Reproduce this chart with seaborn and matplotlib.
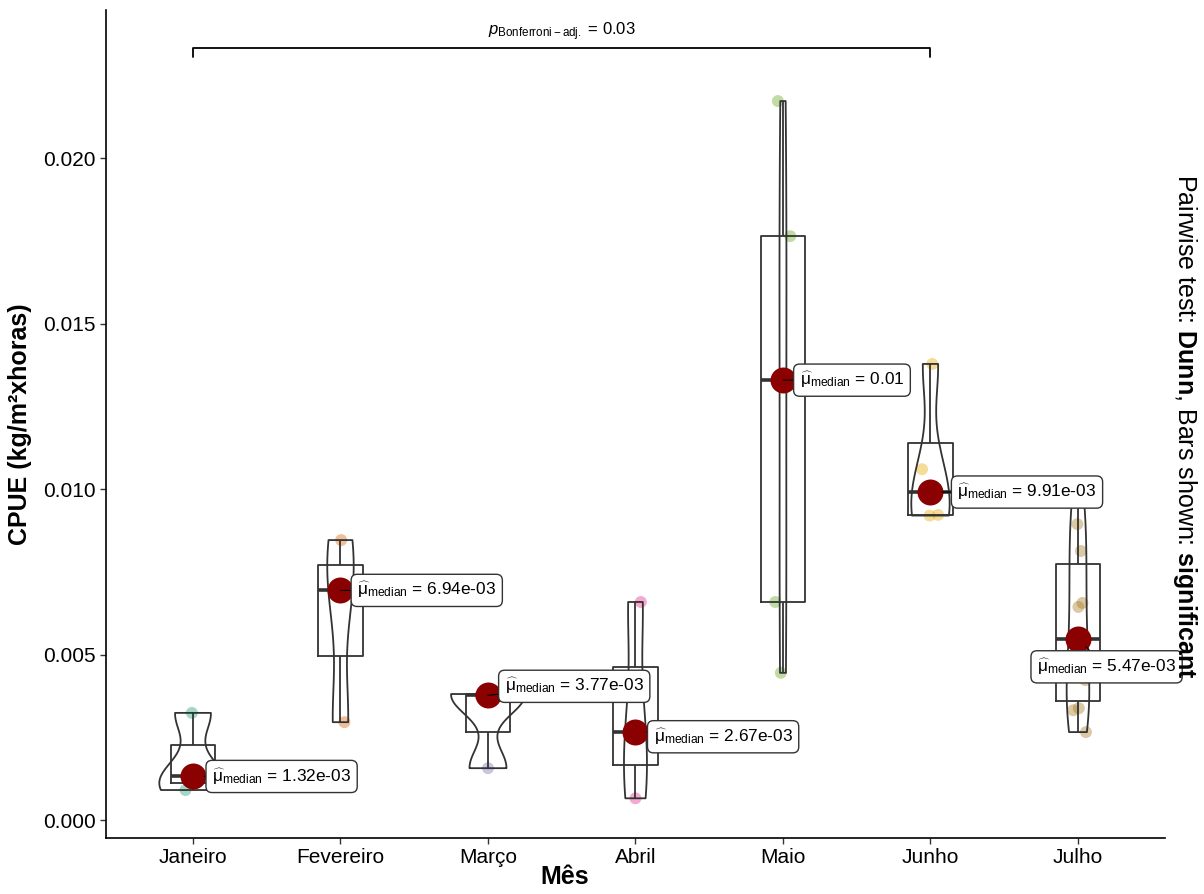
import numpy as np
import pandas as pd
import matplotlib
matplotlib.use("Agg")
import matplotlib.pyplot as plt
import seaborn as sns

# CPUE per month (kg/m² x horas)
months = ["Janeiro", "Fevereiro", "Março", "Abril", "Maio", "Junho", "Julho"]
cpue_janeiro = [0.00091, 0.00132, 0.00324]
cpue_fevereiro = [0.00296, 0.00694, 0.00846]
cpue_marco = [0.00157, 0.00377, 0.00381]
cpue_abril = [0.00066, 0.00267, 0.00659]
cpue_maio = [0.00445, 0.00659, 0.01329, 0.01764, 0.02172]
cpue_junho = [0.00920, 0.00922, 0.01060, 0.01378]
cpue_julho = [0.00266, 0.00332, 0.00338, 0.00423, 0.00450,
              0.00644, 0.00656, 0.00813, 0.00894, 0.00960]

# significant pairwise comparison (Dunn test, Bonferroni-adjusted)
pair_groups = ("Janeiro", "Junho")
pair_p_value = 0.03

yticks = [0.000, 0.005, 0.010, 0.015, 0.020]
palette = ["#1B9E77", "#D95F02", "#7570B3", "#E7298A", "#66A61E", "#E6AB02", "#A6761D"]

groups = [cpue_janeiro, cpue_fevereiro, cpue_marco, cpue_abril,
          cpue_maio, cpue_junho, cpue_julho]
df = pd.DataFrame({
    "mes": np.concatenate([[m] * len(g) for m, g in zip(months, groups)]),
    "cpue": np.concatenate(groups),
})
df["mes"] = pd.Categorical(df["mes"], categories=months, ordered=True)

sns.set_theme(style="ticks")
plt.rcParams["font.family"] = ["Liberation Sans", "DejaVu Sans"]
plt.rcParams["mathtext.fontset"] = "custom"
plt.rcParams["mathtext.rm"] = "Liberation Sans"
plt.rcParams["mathtext.it"] = "Liberation Sans:italic"
plt.rcParams["mathtext.bf"] = "Liberation Sans:bold"
plt.rcParams["text.color"] = "black"
plt.rcParams["axes.labelcolor"] = "black"

fig = plt.figure(figsize=(12.04, 8.94), dpi=100)
ax = fig.add_axes([0.088, 0.0626, 0.8796, 0.9262])

line_col = "#333333"


def nrd0_factor(kde):
    # R's default bandwidth (nrd0), expressed as a factor of the sample sd
    x = np.asarray(kde.dataset).ravel()
    sd = np.std(x, ddof=1)
    q75, q25 = np.percentile(x, [75, 25])
    lo = min(sd, (q75 - q25) / 1.34)
    if lo <= 0:
        lo = sd
    return 0.9 * lo * len(x) ** (-0.2) / sd


np.random.seed(7)
sns.stripplot(data=df, x="mes", y="cpue", hue="mes", palette=palette,
              order=months, hue_order=months, jitter=0.06, size=8.6,
              alpha=0.4, linewidth=0, legend=False, ax=ax, zorder=1)

sns.violinplot(data=df, x="mes", y="cpue", order=months, fill=False,
               color=line_col, linewidth=1.3, inner=None, cut=0,
               density_norm="area", width=0.5, bw_method=nrd0_factor,
               ax=ax, zorder=2)

sns.boxplot(data=df, x="mes", y="cpue", order=months, fill=False,
            color=line_col, linewidth=1.3, width=0.3, showcaps=False,
            showfliers=False, whis=1.5,
            medianprops=dict(linewidth=2.6, color=line_col),
            ax=ax, zorder=3)

# medians with labels
label_offsets = [(13.7, 0), (12, 0), (12, 6.5), (13, -3.6), (12, 0), (19.4, 0), (-29.5, -20)]
for i, (g, off) in enumerate(zip(groups, label_offsets)):
    med = float(np.median(g))
    ax.scatter([i], [med], s=350, color="#8B0000", zorder=5, linewidths=0)
    val = f"{med:.2e}" if med < 0.01 else f"{med:.2f}"
    txt = r"$\widehat{\mathrm{\mu}}_{\mathrm{median}}$ = " + val
    ax.annotate(txt, xy=(i, med), xytext=off, textcoords="offset points",
                ha="left", va="center", fontsize=12.4, color="black",
                bbox=dict(boxstyle="round,pad=0.35,rounding_size=0.35",
                          fc="white", ec=line_col, lw=1.0),
                arrowprops=dict(arrowstyle="-", color="black", lw=0.8,
                                shrinkA=0, shrinkB=8),
                zorder=6)

ax.set_xlim(-0.59, 6.59)
ax.set_ylim(-0.00054, 0.02447)

# significance bracket
x1, x2 = months.index(pair_groups[0]), months.index(pair_groups[1])
y_top = max(max(g) for g in groups)
yb = y_top * 1.074
ax.plot([x1, x1, x2, x2], [yb - 0.00027, yb, yb, yb - 0.00027],
        color="black", lw=1.3, clip_on=False, zorder=4)
ax.text((x1 + x2) / 2, yb + 0.00016,
        r"$p_{\mathrm{Bonferroni-adj.}}$ = " + f"{pair_p_value:.2f}",
        ha="center", va="bottom", fontsize=12)

ax.set_yticks(yticks)
ax.yaxis.set_major_formatter(matplotlib.ticker.FormatStrFormatter("%.3f"))
ax.tick_params(axis="both", labelsize=15, length=4, width=1.0,
               color=line_col, labelcolor="black")
for s in ["top", "right"]:
    ax.spines[s].set_visible(False)
for s in ["left", "bottom"]:
    ax.spines[s].set_linewidth(1.2)
    ax.spines[s].set_color("black")

ax.set_xlabel("Mês", fontsize=18, fontweight="bold")
ax.xaxis.set_label_coords(0.433, -0.032)
ax.set_ylabel("CPUE (kg/m²xhoras)", fontsize=18, fontweight="bold", labelpad=8)

fig.text(0.984, 0.5235,
         r"Pairwise test: $\mathbf{Dunn}$, Bars shown: $\mathbf{significant}$",
         rotation=270, ha="center", va="center", fontsize=18)

fig.savefig("out.png", dpi=100)
